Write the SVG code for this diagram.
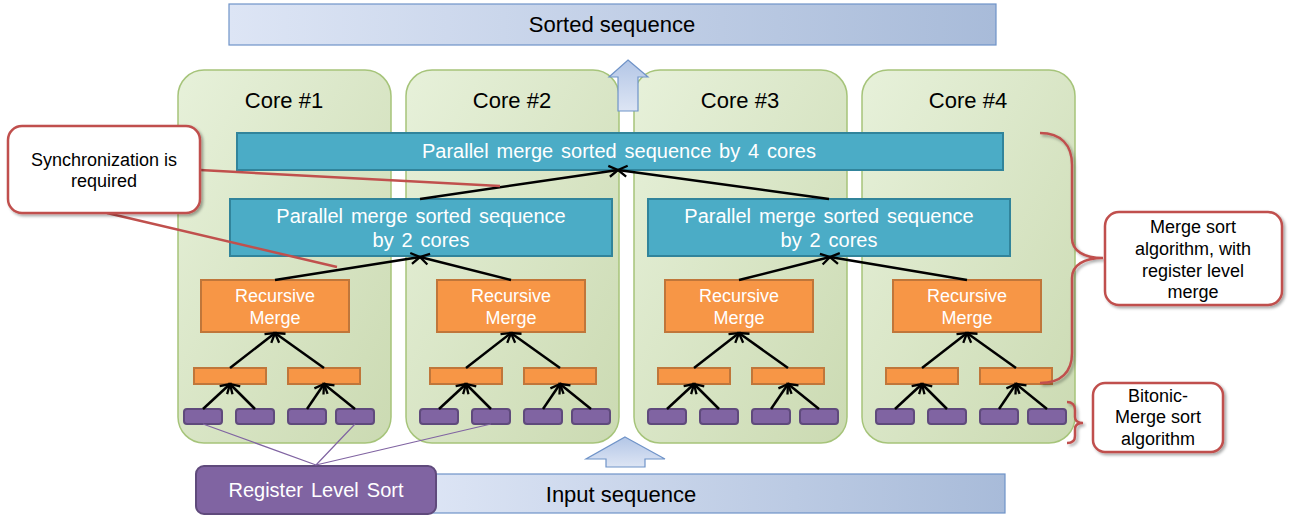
<svg xmlns="http://www.w3.org/2000/svg" width="1291" height="517" viewBox="0 0 1291 517">
<style>
text{font-family:"Liberation Sans",Arial,sans-serif;text-anchor:middle}
.core{fill:url(#coreGrad);stroke:#a6c47a;stroke-width:1.5}
.corelbl{font-size:22px;fill:#000}
.seq{fill:url(#seqGrad);stroke:#6f93c8;stroke-width:1.2}
.seqtxt{font-size:22px;fill:#000}
.blue{fill:#4bacc6;stroke:#31849b;stroke-width:2}
.btxt{font-size:20px;fill:#fff;word-spacing:2.3px}
.orange{fill:#f79646;stroke:#c0763a;stroke-width:2}
.otxt{font-size:18px;fill:#fff}
.purple{fill:#8064a2;stroke:#5f4a7c;stroke-width:2}
.ptxt{font-size:20px;fill:#fff;word-spacing:2.5px}
.arr{stroke:#000;stroke-width:2.5;fill:none;marker-end:url(#ah)}
.reg{stroke:#8064a2;stroke-width:1.2;fill:none}
.lead{stroke:#c0504d;stroke-width:2.5;fill:none}
.callout{fill:#fff;stroke:#c0504d;stroke-width:2.5;filter:url(#sh)}
.brace{fill:none;stroke:#c0504d;stroke-width:2.5;filter:url(#sh)}
.ctxt{font-size:18px;fill:#000}
.blk{fill:url(#blkGrad);stroke:#6f93c8;stroke-width:1.2}
</style>
<defs>
<linearGradient id="seqGrad" x1="0" y1="0" x2="1" y2="0">
<stop offset="0" stop-color="#dde5f5"/><stop offset="1" stop-color="#a8bbd9"/>
</linearGradient>
<linearGradient id="coreGrad" x1="0" y1="0" x2="1" y2="1">
<stop offset="0" stop-color="#e7f1da"/><stop offset="1" stop-color="#cbdab2"/>
</linearGradient>
<linearGradient id="blkGrad" x1="0" y1="0" x2="0" y2="1">
<stop offset="0" stop-color="#b3c6e6"/><stop offset="1" stop-color="#dde5f4"/>
</linearGradient>
<marker id="ah" markerUnits="userSpaceOnUse" markerWidth="14" markerHeight="14" refX="11" refY="7" orient="auto">
<path d="M2,1.5 L11,7 L2,12.5" fill="none" stroke="#000" stroke-width="2.3"/>
</marker>
<filter id="sh" x="-20%" y="-20%" width="140%" height="140%">
<feDropShadow dx="2" dy="2" stdDeviation="1.5" flood-color="#000" flood-opacity="0.35"/>
</filter>
</defs>

<g id="sorted-sequence">
<rect class="seq" x="229" y="4" width="767" height="41"/>
<text class="seqtxt" x="612" y="32">Sorted sequence</text>
</g>

<g id="input-sequence">
<rect class="seq" x="420" y="474" width="585" height="39"/>
<text class="seqtxt" x="621" y="502">Input sequence</text>
</g>

<g id="core1"><rect class="core" x="178" y="70" width="213" height="373" rx="26"/><text class="corelbl" x="284" y="108">Core #1</text></g>
<g id="core2"><rect class="core" x="406" y="70" width="213" height="373" rx="26"/><text class="corelbl" x="512" y="108">Core #2</text></g>
<g id="core3"><rect class="core" x="634" y="70" width="213" height="373" rx="26"/><text class="corelbl" x="740" y="108">Core #3</text></g>
<g id="core4"><rect class="core" x="862" y="70" width="213" height="373" rx="26"/><text class="corelbl" x="968" y="108">Core #4</text></g>

<g id="arrow-up-top"><polygon class="blk" points="628,60 648,77 638,77 638,111 618,111 618,77 609,77"/></g>
<g id="arrow-up-bottom"><polygon class="blk" points="625,437 665,459 645,459 645,467 606,467 606,459 586,459"/></g>

<g id="merge-4cores">
<rect class="blue" x="237" y="133" width="766" height="37"/>
<text class="btxt" x="619" y="158">Parallel merge sorted sequence by 4 cores</text>
</g>
<g id="merge-2cores-left">
<rect class="blue" x="230" y="199" width="382" height="57"/>
<text class="btxt" x="421" y="223">Parallel merge sorted sequence</text>
<text class="btxt" x="421" y="247">by 2 cores</text>
</g>
<g id="merge-2cores-right">
<rect class="blue" x="648" y="199" width="362" height="57"/>
<text class="btxt" x="829" y="223">Parallel merge sorted sequence</text>
<text class="btxt" x="829" y="247">by 2 cores</text>
</g>

<g id="recursive-merge-1"><rect class="orange" x="201" y="280" width="148" height="52"/><text class="otxt" x="275" y="302">Recursive</text><text class="otxt" x="275" y="324">Merge</text></g>
<g id="recursive-merge-2"><rect class="orange" x="437" y="280" width="148" height="52"/><text class="otxt" x="511" y="302">Recursive</text><text class="otxt" x="511" y="324">Merge</text></g>
<g id="recursive-merge-3"><rect class="orange" x="665" y="280" width="148" height="52"/><text class="otxt" x="739" y="302">Recursive</text><text class="otxt" x="739" y="324">Merge</text></g>
<g id="recursive-merge-4"><rect class="orange" x="893" y="280" width="148" height="52"/><text class="otxt" x="967" y="302">Recursive</text><text class="otxt" x="967" y="324">Merge</text></g>

<g id="register-merge-blocks">
<rect class="orange" x="194" y="368" width="72" height="16"/><rect class="orange" x="288" y="368" width="72" height="16"/>
<rect class="orange" x="430" y="368" width="72" height="16"/><rect class="orange" x="524" y="368" width="72" height="16"/>
<rect class="orange" x="658" y="368" width="72" height="16"/><rect class="orange" x="752" y="368" width="72" height="16"/>
<rect class="orange" x="886" y="368" width="72" height="16"/><rect class="orange" x="980" y="368" width="72" height="16"/>
</g>

<g id="bitonic-blocks">
<rect class="purple" x="184" y="409" width="38" height="15" rx="3"/><rect class="purple" x="236" y="409" width="38" height="15" rx="3"/><rect class="purple" x="288" y="409" width="38" height="15" rx="3"/><rect class="purple" x="336" y="409" width="38" height="15" rx="3"/>
<rect class="purple" x="420" y="409" width="38" height="15" rx="3"/><rect class="purple" x="472" y="409" width="38" height="15" rx="3"/><rect class="purple" x="524" y="409" width="38" height="15" rx="3"/><rect class="purple" x="572" y="409" width="38" height="15" rx="3"/>
<rect class="purple" x="648" y="409" width="38" height="15" rx="3"/><rect class="purple" x="700" y="409" width="38" height="15" rx="3"/><rect class="purple" x="752" y="409" width="38" height="15" rx="3"/><rect class="purple" x="800" y="409" width="38" height="15" rx="3"/>
<rect class="purple" x="876" y="409" width="38" height="15" rx="3"/><rect class="purple" x="928" y="409" width="38" height="15" rx="3"/><rect class="purple" x="980" y="409" width="38" height="15" rx="3"/><rect class="purple" x="1028" y="409" width="38" height="15" rx="3"/>
</g>

<g id="register-level-sort">
<rect class="purple" x="196" y="466" width="240" height="48" rx="8"/>
<text class="ptxt" x="316" y="497">Register Level Sort</text>
</g>

<g id="connectors">
<line class="arr" x1="203" y1="409" x2="230" y2="384"/><line class="arr" x1="255" y1="409" x2="230" y2="384"/><line class="arr" x1="307" y1="409" x2="324" y2="384"/><line class="arr" x1="355" y1="409" x2="324" y2="384"/>
<line class="arr" x1="439" y1="409" x2="466" y2="384"/><line class="arr" x1="491" y1="409" x2="466" y2="384"/><line class="arr" x1="543" y1="409" x2="560" y2="384"/><line class="arr" x1="591" y1="409" x2="560" y2="384"/>
<line class="arr" x1="667" y1="409" x2="694" y2="384"/><line class="arr" x1="719" y1="409" x2="694" y2="384"/><line class="arr" x1="771" y1="409" x2="788" y2="384"/><line class="arr" x1="819" y1="409" x2="788" y2="384"/>
<line class="arr" x1="895" y1="409" x2="922" y2="384"/><line class="arr" x1="947" y1="409" x2="922" y2="384"/><line class="arr" x1="999" y1="409" x2="1016" y2="384"/><line class="arr" x1="1047" y1="409" x2="1016" y2="384"/>
<line class="arr" x1="230" y1="368" x2="275" y2="333"/><line class="arr" x1="324" y1="368" x2="275" y2="333"/>
<line class="arr" x1="466" y1="368" x2="511" y2="333"/><line class="arr" x1="560" y1="368" x2="511" y2="333"/>
<line class="arr" x1="694" y1="368" x2="739" y2="333"/><line class="arr" x1="788" y1="368" x2="739" y2="333"/>
<line class="arr" x1="922" y1="368" x2="967" y2="333"/><line class="arr" x1="1016" y1="368" x2="967" y2="333"/>
<line class="arr" x1="275" y1="280" x2="420" y2="257"/><line class="arr" x1="511" y1="280" x2="420" y2="257"/>
<line class="arr" x1="739" y1="280" x2="830" y2="257"/><line class="arr" x1="967" y1="280" x2="830" y2="257"/>
<line class="arr" x1="420" y1="199" x2="618" y2="170"/><line class="arr" x1="829" y1="199" x2="618" y2="170"/>
<path class="reg" d="M316,465L203,424M316,465L355,424M316,465L491,424"/>
<path class="lead" d="M200,170L500,186M107,213L337,267"/>
</g>

<g id="callout-sync">
<rect class="callout" x="8" y="126" width="192" height="87" rx="14"/>
<text class="ctxt" x="104" y="166">Synchronization is</text>
<text class="ctxt" x="104" y="187">required</text>
</g>

<g id="callout-merge-sort">
<path class="brace" d="M1040,133C1061,133 1072,145 1072,165L1072,238C1072,251 1084,258 1103,258C1084,258 1072,265 1072,278L1072,353C1072,372 1061,383 1040,383"/>
<rect class="callout" x="1105" y="212" width="177" height="93" rx="14"/>
<text class="ctxt" x="1193" y="233">Merge sort</text>
<text class="ctxt" x="1193" y="255">algorithm, with</text>
<text class="ctxt" x="1193" y="277">register level</text>
<text class="ctxt" x="1193" y="298">merge</text>
</g>

<g id="callout-bitonic">
<path class="brace" d="M1067,402C1072,402 1075,405 1075,410L1075,417C1075,421 1078,423 1083,423C1078,423 1075,425 1075,429L1075,436C1075,441 1072,443 1067,443"/>
<rect class="callout" x="1093" y="383" width="130" height="69" rx="12"/>
<text class="ctxt" x="1158" y="402">Bitonic-</text>
<text class="ctxt" x="1158" y="423">Merge sort</text>
<text class="ctxt" x="1158" y="445">algorithm</text>
</g>
</svg>
